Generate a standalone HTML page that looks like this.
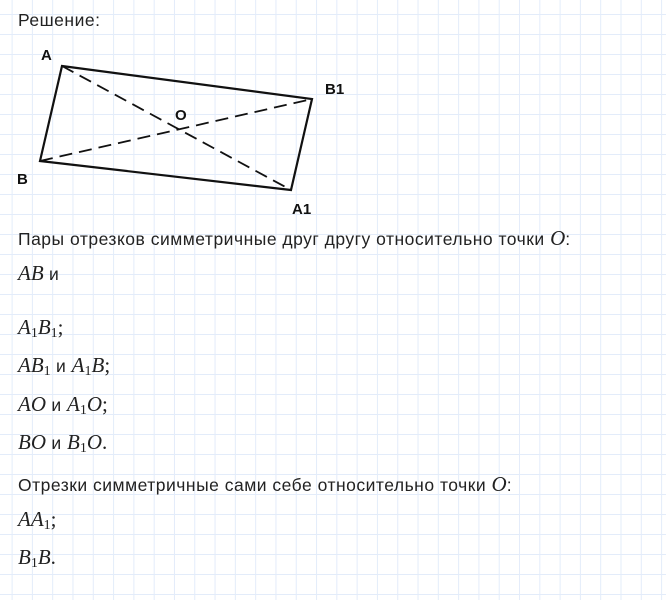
<!DOCTYPE html>
<html><head><meta charset="utf-8"><style>
html,body{margin:0;padding:0}
body{width:666px;height:600px;position:relative;overflow:hidden;background-color:#fff;
background-image:linear-gradient(to right,#e3ecfa 1px,transparent 1px),linear-gradient(to bottom,#e3ecfa 1px,transparent 1px);
background-size:20.3px 20px;background-position:11.6px 14px;font-family:"Liberation Sans",sans-serif;color:#222}
.t{position:absolute;left:18px;font-size:17.5px;letter-spacing:0.5px;white-space:nowrap}
.m{font-family:"Liberation Serif",serif;font-style:italic;font-size:21px;letter-spacing:0}
.m sub{font-style:normal;font-size:14px;vertical-align:-3px}
.n{font-family:"Liberation Serif",serif;font-size:21px}
</style></head><body>
<div class="t" style="top:10px">Решение:</div>
<svg width="666" height="600" style="position:absolute;left:0;top:0">
<g stroke="#111" stroke-width="2.2" fill="none">
<polygon points="62,66 312,99 291,190 40,161"/>
</g>
<g stroke="#111" stroke-width="1.8" stroke-dasharray="13,7" fill="none">
<line x1="62" y1="66" x2="291" y2="190"/>
<line x1="40" y1="161" x2="312" y2="99"/>
</g>
<g font-family="Liberation Sans,sans-serif" font-weight="bold" font-size="15" fill="#111">
<text x="41" y="60">A</text>
<text x="325" y="94">B1</text>
<text x="175" y="120">O</text>
<text x="17" y="184">B</text>
<text x="292" y="214">A1</text>
</g>
</svg>
<div class="t" style="top:226px">Пары отрезков симметричные друг другу относительно точки <span class="m">O</span>:</div>
<div class="t" style="top:261px"><span class="m">AB</span> и</div>
<div class="t" style="top:315px"><span class="m">A<sub>1</sub>B<sub>1</sub></span><span class="n">;</span></div>
<div class="t" style="top:353px"><span class="m">AB<sub>1</sub></span> и <span class="m">A<sub>1</sub>B</span><span class="n">;</span></div>
<div class="t" style="top:392px"><span class="m">AO</span> и <span class="m">A<sub>1</sub>O</span><span class="n">;</span></div>
<div class="t" style="top:430px"><span class="m">BO</span> и <span class="m">B<sub>1</sub>O</span><span class="n">.</span></div>
<div class="t" style="top:472px">Отрезки симметричные сами себе относительно точки <span class="m">O</span>:</div>
<div class="t" style="top:507px"><span class="m">AA<sub>1</sub></span><span class="n">;</span></div>
<div class="t" style="top:545px"><span class="m">B<sub>1</sub>B</span><span class="n">.</span></div>
</body></html>
